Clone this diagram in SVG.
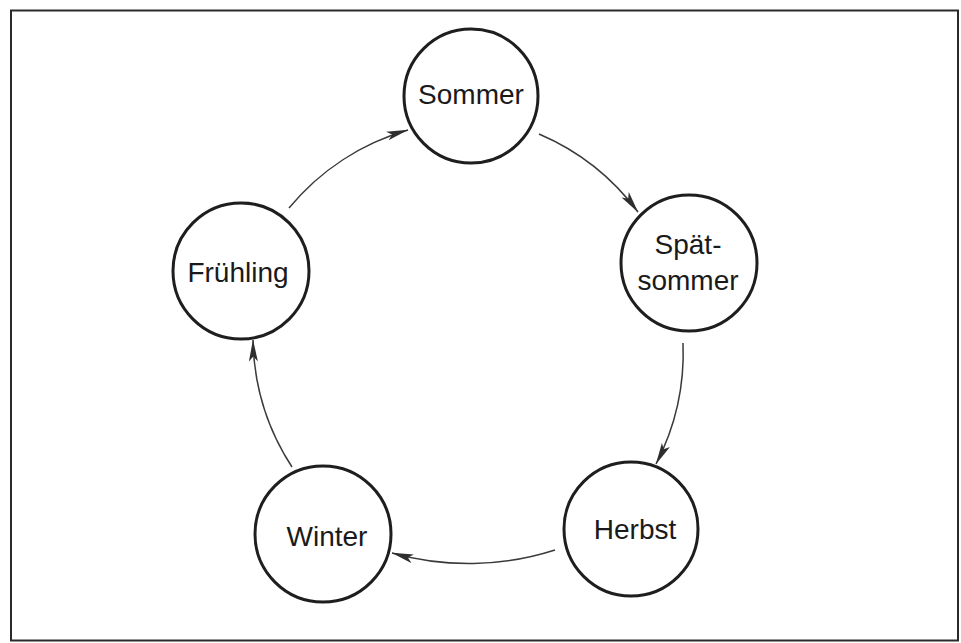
<svg xmlns="http://www.w3.org/2000/svg" width="961" height="643" viewBox="0 0 961 643">
<defs>
<marker id="ah" viewBox="0 0 22 10" refX="21.5" refY="5" markerWidth="22" markerHeight="10" markerUnits="userSpaceOnUse" orient="auto">
<path d="M0,0.5 L22,5 L0,9.5 L5,5 Z" fill="#2e2e2e"/>
</marker>
<style>
.node circle{fill:#fff;stroke:#1e1e1e;stroke-width:3}
.node text{font-family:"Liberation Sans",Arial,sans-serif;font-size:28px;fill:#1a1a1a;text-anchor:middle}
.conn path{fill:none;stroke:#3a3a3a;stroke-width:1.5;marker-end:url(#ah)}
</style>
</defs>
<rect x="0" y="0" width="961" height="643" fill="#fff"/>
<rect x="11" y="10.5" width="947" height="630" fill="none" stroke="#2a2a2a" stroke-width="2"/>
<g id="connectors" class="conn">
<path d="M289,208 A241,241 0 0 1 408,130"/>
<path d="M539,134 A241,241 0 0 1 638,212"/>
<path d="M683,343 A241,241 0 0 1 656,464"/>
<path d="M555,550 A283,283 0 0 1 392,553"/>
<path d="M292,467 A241,241 0 0 1 253,340"/>
</g>
<g id="sommer" class="node">
<circle cx="471" cy="96" r="67"/>
<text x="471" y="104">Sommer</text>
</g>
<g id="spaetsommer" class="node">
<circle cx="689" cy="263" r="68"/>
<text x="688" y="254">Spät-</text>
<text x="688" y="290">sommer</text>
</g>
<g id="herbst" class="node">
<circle cx="631" cy="529" r="67"/>
<text x="635" y="539">Herbst</text>
</g>
<g id="winter" class="node">
<circle cx="323" cy="534" r="68"/>
<text x="327" y="546">Winter</text>
</g>
<g id="fruehling" class="node">
<circle cx="241" cy="271" r="68"/>
<text x="238" y="282">Frühling</text>
</g>
</svg>
